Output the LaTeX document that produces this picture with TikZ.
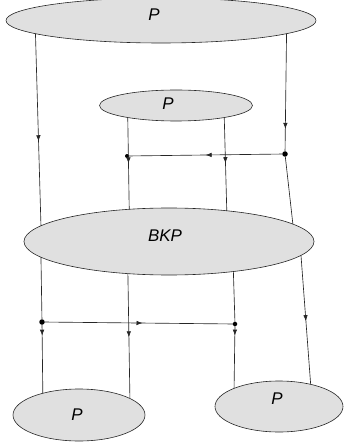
\documentclass[tikz,border=0pt]{standalone}
\usepackage{fontspec}
\setmainfont{Liberation Sans}
\usetikzlibrary{shapes.geometric, arrows.meta, decorations.markings}
\tikzset{
  part/.style={ellipse, draw=black!85, fill=black!12, line width=0.6pt, inner sep=0pt, outer sep=0pt},
  plabel/.style={font=\fontsize{17}{20}\selectfont\itshape, inner sep=0pt},
  wire/.style={draw=black!85, line width=0.65pt},
  midarrow/.style={postaction={decorate}, decoration={markings, mark=at position #1 with {\arrow{Latex[length=6bp,width=4.5bp]}}}},
  joint/.style={circle, fill=black, inner sep=0pt, outer sep=0pt, minimum size=#1},
}
\begin{document}
\begin{tikzpicture}[x=1bp, y=-1bp]
        \useasboundingbox (0,0) rectangle (343,446);

        % ellipses
        \node (top) [part, minimum width=310bp, minimum height=45bp, label={[plabel, xshift=-7bp, yshift=5.5bp]center:P}] at (161,20.5) {};
        \node (mid) [part, minimum width=153bp, minimum height=31bp, label={[plabel, xshift=-8bp, yshift=1.5bp]center:P}] at (176,105.5) {};
        \node (bkp) [part, minimum width=290bp, minimum height=67bp, label={[plabel, xshift=-4bp, yshift=5.5bp]center:BKP}] at (169,241.5) {};
        \node (botl) [part, minimum width=132bp, minimum height=52bp, label={[plabel, xshift=-2bp]center:P}] at (79,415) {};
        \node (botr) [part, minimum width=128bp, minimum height=51bp, label={[plabel, xshift=-2bp, yshift=7.5bp]center:P}] at (279,406.5) {};

        % joints
        \node (j1) [joint=5.5bp] at (285,154) {};
        \node (j2) [joint=4bp] at (127,156) {};
        \node (j3) [joint=5.5bp] at (42,322) {};
        \node (j4) [joint=4.5bp] at (235,324) {};

        % upper edges
        \draw[wire, midarrow=0.56] (top.186.8) -- (bkp.173.2);
        \draw[wire, midarrow=0.81] (top.-6.35) -- (j1);
        \draw[wire] (j1) -- (bkp.8.9);
        \draw[wire, midarrow=0.5] (j1) -- (j2);
        \draw[wire, midarrow=0.5] (mid.194.6) -- (bkp.141.9);
        \draw[wire, midarrow=0.49] (mid.-14.1) -- (bkp.28.4);

        % lower edges
        \draw[wire] (bkp.187.5) -- (j3);
        \draw[wire, midarrow=0.16] (j3) -- (botl.149.8);
        \draw[wire, midarrow=0.51] (bkp.218.8) -- (botl.18.7);
        \draw[wire] (bkp.-25.2) -- (j4);
        \draw[wire, midarrow=0.15] (j4) -- (botr.158.1);
        \draw[wire, midarrow=0.51] (bkp.-6.3) -- (botr.35.7);
        \draw[wire, midarrow=0.52] (j3) -- (j4);
\end{tikzpicture}
\end{document}
